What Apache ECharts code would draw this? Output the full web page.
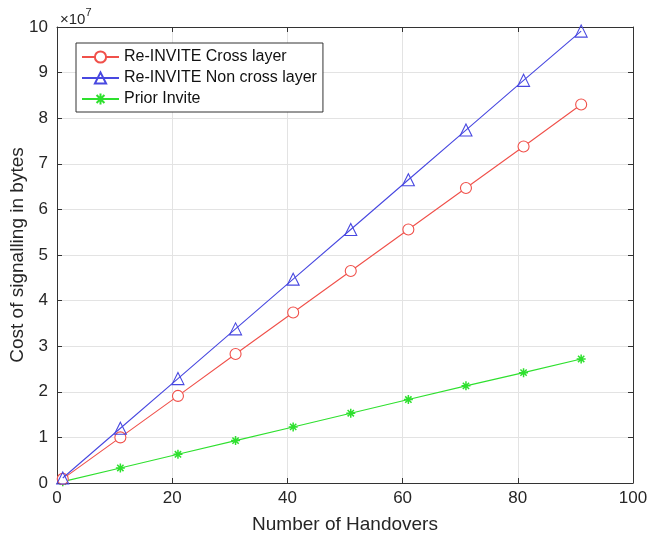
<!DOCTYPE html>
<html>
<head>
<meta charset="utf-8">
<script src="https://cdn.jsdelivr.net/npm/echarts@6/dist/echarts.min.js"></script>
<style>
  html, body { margin: 0; padding: 0; background: #fff; }
  #chart { width: 650px; height: 537px; }
</style>
</head>
<body>
<div id="chart"></div>
<script>
// Signalling cost (in units of 10^7 bytes) versus number of handovers
const handovers = [1, 11, 21, 31, 41, 51, 61, 71, 81, 91];
const crossLayer = [0.09, 1.00, 1.91, 2.83, 3.74, 4.65, 5.56, 6.47, 7.38, 8.30];
const nonCrossLayer = [0.11, 1.20, 2.29, 3.38, 4.47, 5.56, 6.65, 7.74, 8.83, 9.91];
const priorInvite = [0.03, 0.33, 0.63, 0.93, 1.23, 1.53, 1.83, 2.13, 2.42, 2.72];
const xTicks = [0, 20, 40, 60, 80, 100];
const yTicks = [0, 1, 2, 3, 4, 5, 6, 7, 8, 9, 10];
const seriesNames = ['Re-INVITE Cross layer', 'Re-INVITE Non cross layer', 'Prior Invite'];

const font = 'Liberation Sans, Arial, Helvetica, sans-serif';
const axisColor = '#333333';
const textColor = '#262626';
const toPairs = ys => handovers.map((x, i) => [x, ys[i]]);

const baseX = {
  type: 'value', min: 0, max: 100, interval: 20,
  axisLine: { show: true, onZero: false, lineStyle: { color: axisColor, width: 1 } },
  axisTick: { show: true, inside: true, length: 5, lineStyle: { color: axisColor } },
  splitLine: { show: false }
};
const baseY = {
  type: 'value', min: 0, max: 10, interval: 1,
  axisLine: { show: true, onZero: false, lineStyle: { color: axisColor, width: 1 } },
  axisTick: { show: true, inside: true, length: 5, lineStyle: { color: axisColor } },
  splitLine: { show: false }
};

const chart = echarts.init(document.getElementById('chart'), null, { renderer: 'canvas' });
chart.setOption({
  animation: false,
  backgroundColor: '#fff',
  grid: { left: 57, right: 17, top: 27, bottom: 54, containLabel: false, outerBoundsMode: 'none' },
  xAxis: [
    Object.assign({}, baseX, {
      position: 'bottom',
      name: 'Number of Handovers', nameLocation: 'middle', nameGap: 32, nameMoveOverlap: false,
      nameTextStyle: { fontFamily: font, fontSize: 19, color: textColor },
      axisLabel: { fontFamily: font, fontSize: 17, color: textColor, margin: 7,
        formatter: v => xTicks.includes(v) ? String(v) : '' },
      splitLine: { show: true, lineStyle: { color: '#e3e3e3', width: 1 } }
    }),
    Object.assign({}, baseX, { position: 'top', axisLabel: { show: false } })
  ],
  yAxis: [
    Object.assign({}, baseY, {
      position: 'left',
      name: 'Cost of signalling in bytes', nameLocation: 'middle', nameGap: 30, nameMoveOverlap: false,
      nameTextStyle: { fontFamily: font, fontSize: 19, color: textColor },
      axisLabel: { fontFamily: font, fontSize: 17, color: textColor, margin: 9,
        formatter: v => yTicks.includes(v) ? String(v) : '' },
      splitLine: { show: true, lineStyle: { color: '#e3e3e3', width: 1 } }
    }),
    Object.assign({}, baseY, { position: 'right', axisLabel: { show: false } })
  ],
  legend: {
    orient: 'vertical', left: 76, top: 43,
    data: seriesNames,
    backgroundColor: '#fff',
    borderColor: '#333', borderWidth: 1, borderRadius: 0,
    padding: [6, 6, 5, 5],
    itemGap: 5, itemWidth: 37, itemHeight: 14,
    textStyle: { fontFamily: font, fontSize: 16, lineHeight: 16, color: '#111' }
  },
  graphic: [{
    type: 'text', left: 60, top: 7,
    style: {
      text: '{b|×10}{s|7}',
      rich: {
        b: { fontFamily: font, fontSize: 15, fill: textColor, verticalAlign: 'bottom', lineHeight: 20 },
        s: { fontFamily: font, fontSize: 11, fill: textColor, verticalAlign: 'top', lineHeight: 20, padding: [0, 0, 10, 0] }
      }
    }
  }],
  series: [
    {
      name: seriesNames[0], type: 'line', data: toPairs(crossLayer),
      symbol: 'circle', symbolSize: 11,
      lineStyle: { color: '#f0504a', width: 1.1 },
      itemStyle: { color: '#fff', borderColor: '#f0504a', borderWidth: 1.1 },
      z: 3
    },
    {
      name: seriesNames[1], type: 'line', data: toPairs(nonCrossLayer),
      symbol: 'triangle', symbolSize: 12,
      lineStyle: { color: '#4848e0', width: 1.1 },
      itemStyle: { color: 'rgba(255,255,255,0)', borderColor: '#4848e0', borderWidth: 1.1 },
      z: 4
    },
    {
      name: seriesNames[2], type: 'line', data: toPairs(priorInvite),
      symbol: 'path://M0,-5L0,5M-5,0L5,0M-3.5,-3.5L3.5,3.5M-3.5,3.5L3.5,-3.5', symbolSize: 9,
      lineStyle: { color: '#2ee02e', width: 1.1 },
      itemStyle: { color: '#2ee02e', borderColor: '#2ee02e', borderWidth: 1.5 },
      z: 2
    }
  ]
});
</script>
</body>
</html>
